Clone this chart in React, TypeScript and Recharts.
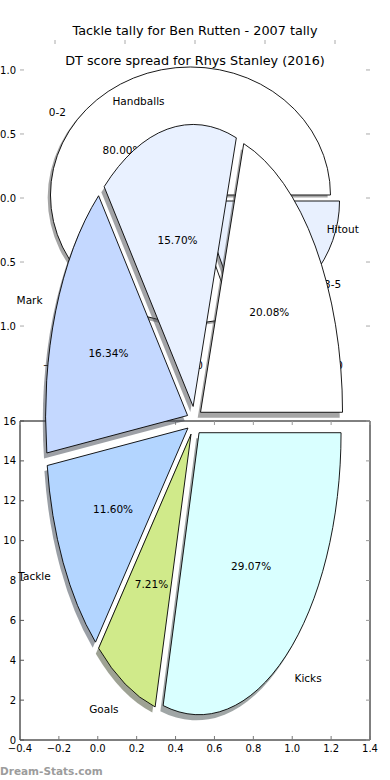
import React from 'react';
import { PieChart, Pie, ComposedChart, XAxis, YAxis, ReferenceArea, Scatter } from 'recharts';

// ---------- data ----------
const tallyCategories = ['Kicks', 'Goals', 'Tackle', 'Mark', 'Handballs', 'Hitout'];
const tallyValues = [29.07, 7.21, 11.6, 16.34, 15.7, 20.08];
const dtCategories = ['0-2', '3-5'];
const dtValues = [80, 20];
const frameXTicks = [-0.4, -0.2, 0, 0.2, 0.4, 0.6, 0.8, 1.0, 1.2, 1.4];
const frameYTicks = [0, 2, 4, 6, 8, 10, 12, 14, 16];
const frameXDomain = [-0.4, 1.4];
const frameYDomain = [0, 16];
const dtXTicks = [-1, -0.5, 0, 0.5, 1];
const dtYTicks = [-1, -0.5, 0, 0.5, 1];
const dtXDomain = [-1.25, 1.25];
const dtYDomain = [-1.234, 1.234];
const titleTop = 'Tackle tally for Ben Rutten - 2007 tally';
const titleDt = 'DT score spread for Rhys Stanley (2016)';
const watermark = 'Dream-Stats.com';

// ---------- styles ----------
const tallyColors = ['#d9ffff', '#d0ea8a', '#b3d5ff', '#c4d8ff', '#e9f1ff', '#ffffff'];
const dtColors = ['#ffffff', '#e8f0fe'];
const FONT = 'DejaVu Sans, Verdana, sans-serif';

const tallyData = tallyCategories.map((name, i) => ({ name, value: tallyValues[i] }));
const dtData = dtCategories.map((name, i) => ({ name, value: dtValues[i] }));
// corner points so the cartesian axes have something to scale against (drawn invisible)
const frameCorners = [{ x: frameXDomain[0], y: frameYDomain[0] }, { x: frameXDomain[1], y: frameYDomain[1] }];
const dtCorners = [{ x: dtXDomain[0], y: dtYDomain[0] }, { x: dtXDomain[1], y: dtYDomain[1] }];

const RAD = Math.PI / 180;

type Geo = { ratio: number; explode: number; shadow: [number, number]; colors: string[] };

const bigGeo: Geo = { ratio: 282 / 142, explode: 0.0525, shadow: [-2.8, 5.6], colors: tallyColors };
const dtGeo: Geo = { ratio: 128 / 140, explode: 0.04, shadow: [-2.8, 2.6], colors: dtColors };

function shade(hex: string): string {
  const n = parseInt(hex.slice(1), 16);
  const r = Math.round(((n >> 16) & 255) * 0.3);
  const g = Math.round(((n >> 8) & 255) * 0.3);
  const b = Math.round((n & 255) * 0.3);
  return `rgb(${r},${g},${b})`;
}

function geom(props: any, g: Geo) {
  const { cx, cy, outerRadius, startAngle, endAngle } = props;
  const rx = outerRadius;
  const ry = outerRadius * g.ratio;
  const mid = (startAngle + endAngle) / 2;
  const c = Math.cos(mid * RAD);
  const s = Math.sin(mid * RAD);
  const ox = cx + g.explode * rx * c;
  const oy = cy - g.explode * ry * s;
  return { rx, ry, c, s, ox, oy, startAngle, endAngle };
}

function wedgeRenderer(g: Geo) {
  return (props: any) => {
    const { rx, ry, ox, oy, startAngle, endAngle } = geom(props, g);
    const pt = (a: number) => [ox + rx * Math.cos(a * RAD), oy - ry * Math.sin(a * RAD)];
    const [x1, y1] = pt(startAngle);
    const [x2, y2] = pt(endAngle);
    const large = Math.abs(endAngle - startAngle) > 180 ? 1 : 0;
    const sweep = endAngle < startAngle ? 1 : 0;
    const d = `M${ox},${oy} L${x1},${y1} A${rx},${ry} 0 ${large} ${sweep} ${x2},${y2} Z`;
    const color = g.colors[props.index % g.colors.length];
    return (
      <g key={`w${props.index}`}>
        <path d={d} transform={`translate(${g.shadow[0]},${g.shadow[1]})`} fill={shade(color)} fillOpacity={0.5} stroke="none" />
        <path d={d} fill={color} stroke="#000" strokeWidth={0.9} strokeLinejoin="miter" />
      </g>
    );
  };
}

function textRenderer(g: Geo, names: string[]) {
  return (props: any) => {
    const { rx, ry, c, s, ox, oy } = geom(props, g);
    const lx = ox + 1.1 * rx * c;
    const ly = oy - 1.1 * ry * s;
    const px = ox + 0.6 * rx * c;
    const py = oy - 0.6 * ry * s;
    return (
      <g key={`t${props.index}`}>
        <text x={lx} y={ly} dy="0.36em" textAnchor={c > 0 ? 'start' : 'end'} fontFamily={FONT} fontSize={10.5} fill="#000">
          {names[props.index]}
        </text>
        <text x={px} y={py} dy="0.36em" textAnchor="middle" fontFamily={FONT} fontSize={10.5} fill="#000">
          {(props.percent * 100).toFixed(2)}%
        </text>
      </g>
    );
  };
}

const fmt1 = (v: number) => (v < 0 ? '\u2212' + Math.abs(v).toFixed(1) : v.toFixed(1));

// ---------- frame (bottom axes) geometry ----------
const FL = 20, FR = 370, FT = 421, FB = 740;
// ---------- DT axes geometry ----------
const DL = 20, DR = 370, DT = 40, DB = 356;

const FrameXTick = (p: any) => (
  <g>
    <line x1={p.x} x2={p.x} y1={FB} y2={FB - 4} stroke="#777" strokeWidth={1} />
    <line x1={p.x} x2={p.x} y1={FT} y2={FT + 4} stroke="#999" strokeWidth={1} />
    <text x={p.x} y={FB + 8} dy="0.36em" textAnchor="middle" fontFamily={FONT} fontSize={10} fill="#000">
      {fmt1(p.payload.value)}
    </text>
  </g>
);

const FrameYTick = (p: any) => (
  <g>
    <line x1={FL} x2={FL + 4} y1={p.y} y2={p.y} stroke="#555" strokeWidth={1} />
    <line x1={FR} x2={FR - 4} y1={p.y} y2={p.y} stroke="#999" strokeWidth={1} />
    <text x={FL - 4} y={p.y} dy="0.36em" textAnchor="end" fontFamily={FONT} fontSize={10} fill="#000">
      {String(p.payload.value)}
    </text>
  </g>
);

const DtXTick = (p: any) => (
  <g>
    <line x1={p.x} x2={p.x} y1={DT} y2={DT + 4} stroke="#aaa" strokeWidth={1} />
    <line x1={p.x} x2={p.x} y1={DB} y2={DB - 4} stroke="#aaa" strokeWidth={1} />
    <text x={p.x} y={DB + 9} dy="0.36em" textAnchor="middle" fontFamily={FONT} fontSize={10} fill="#000">
      {fmt1(p.payload.value)}
    </text>
  </g>
);

const DtYTick = (p: any) => (
  <g>
    <line x1={DL} x2={DL + 4} y1={p.y} y2={p.y} stroke="#aaa" strokeWidth={1} />
    <line x1={DR} x2={DR - 4} y1={p.y} y2={p.y} stroke="#aaa" strokeWidth={1} />
    <text x={DL - 4} y={p.y} dy="0.36em" textAnchor="end" fontFamily={FONT} fontSize={10} fill="#000">
      {fmt1(p.payload.value)}
    </text>
  </g>
);

const layer: React.CSSProperties = { position: 'absolute', left: 0, top: 0 };
const AX_H = 20;

export default function App() {
  return (
    <div style={{ position: 'absolute', left: 0, top: 0, width: 390, height: 780, background: '#fff', overflow: 'hidden' }}>
      {/* DT axes */}
      <div style={layer}>
        <ComposedChart width={390} height={780} data={dtCorners}
          margin={{ top: DT, right: 390 - DR, bottom: 780 - DB - AX_H, left: DL - AX_H }}>
          <XAxis dataKey="x" type="number" domain={dtXDomain} ticks={dtXTicks} interval={0} height={AX_H}
            axisLine={false} tickLine={false} tick={(p: any) => <DtXTick {...p} />} allowDataOverflow />
          <YAxis dataKey="y" type="number" domain={dtYDomain} ticks={dtYTicks} interval={0} width={AX_H}
            axisLine={false} tickLine={false} tick={(p: any) => <DtYTick {...p} />} allowDataOverflow />
          <Scatter data={dtCorners} dataKey="y" fill="none" stroke="none" isAnimationActive={false} />
        </ComposedChart>
      </div>
      {/* DT pie */}
      <div style={layer}>
        <PieChart width={390} height={780} margin={{ top: 0, right: 0, bottom: 0, left: 0 }}>
          <Pie data={dtData} dataKey="value" nameKey="name" cx={195} cy={198} outerRadius={140}
            startAngle={0} endAngle={360} fill="none" stroke="none" isAnimationActive={false}
            labelLine={false} label={wedgeRenderer(dtGeo)} />
          <Pie data={dtData} dataKey="value" nameKey="name" cx={195} cy={198} outerRadius={140}
            startAngle={0} endAngle={360} fill="none" stroke="none" isAnimationActive={false}
            labelLine={false} label={textRenderer(dtGeo, dtCategories)} />
        </PieChart>
      </div>
      {/* bottom frame axes */}
      <div style={layer}>
        <ComposedChart width={390} height={780} data={frameCorners}
          margin={{ top: FT, right: 390 - FR, bottom: 780 - FB - AX_H, left: FL - AX_H }}>
          <XAxis dataKey="x" type="number" domain={frameXDomain} ticks={frameXTicks} interval={0} height={AX_H}
            axisLine={false} tickLine={false} tick={(p: any) => <FrameXTick {...p} />} allowDataOverflow />
          <YAxis dataKey="y" type="number" domain={frameYDomain} ticks={frameYTicks} interval={0} width={AX_H}
            axisLine={false} tickLine={false} tick={(p: any) => <FrameYTick {...p} />} allowDataOverflow />
          <Scatter data={frameCorners} dataKey="y" fill="none" stroke="none" isAnimationActive={false} />
          <ReferenceArea x1={frameXDomain[0]} x2={frameXDomain[1]} y1={frameYDomain[0]} y2={frameYDomain[1]}
            fill="none" fillOpacity={0} stroke="#000" strokeWidth={1} ifOverflow="visible" />
        </ComposedChart>
      </div>
      {/* big tally pie */}
      <div style={layer}>
        <PieChart width={390} height={780} margin={{ top: 0, right: 0, bottom: 0, left: 0 }}>
          <Pie data={tallyData} dataKey="value" nameKey="name" cx={194.5} cy={421} outerRadius={142}
            startAngle={0} endAngle={-360} fill="none" stroke="none" isAnimationActive={false}
            labelLine={false} label={wedgeRenderer(bigGeo)} />
          <Pie data={tallyData} dataKey="value" nameKey="name" cx={194.5} cy={421} outerRadius={142}
            startAngle={0} endAngle={-360} fill="none" stroke="none" isAnimationActive={false}
            labelLine={false} label={textRenderer(bigGeo, tallyCategories)} />
        </PieChart>
      </div>
      {/* titles and watermark */}
      <svg style={{ ...layer, pointerEvents: 'none' }} width={390} height={780}>
        <text x={195} y={35} textAnchor="middle" fontFamily={FONT} fontSize={12.8} fill="#000">{titleTop}</text>
        <text x={195} y={65} textAnchor="middle" fontFamily={FONT} fontSize={12.8} fill="#000">{titleDt}</text>
        <text x={0} y={775} textAnchor="start" fontFamily={FONT} fontSize={10.5} fontWeight="bold" fill="#9c9c9c">{watermark}</text>
      </svg>
    </div>
  );
}
